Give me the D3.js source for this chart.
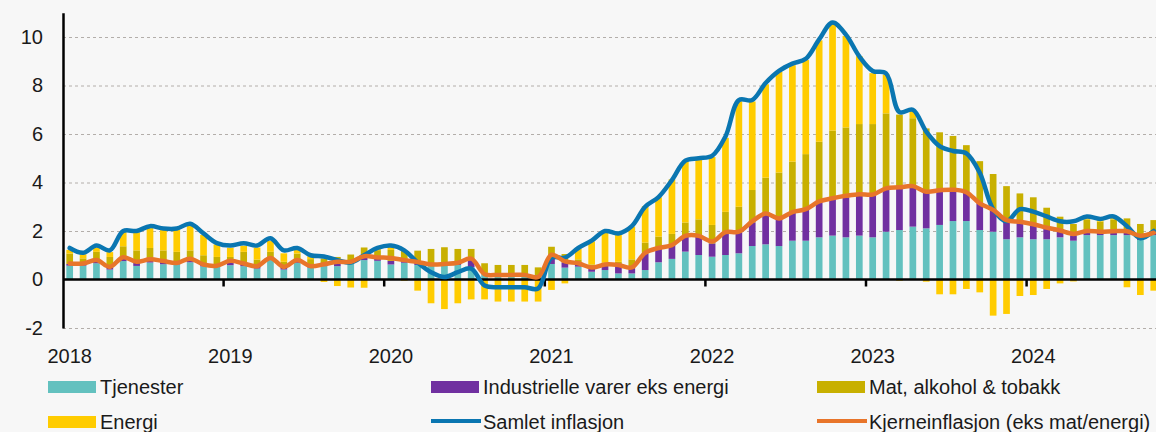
<!DOCTYPE html>
<meta charset="utf-8">
<style>

body {
  margin: 0;
  background: #f7f7f7;
}

svg {
  display: block;
  font-family: "Liberation Sans", Arial, sans-serif;
}

.axis text {
  font-size: 20px;
  fill: #1a1a1a;
}

.grid line {
  stroke: #b3aeaa;
  stroke-dasharray: 3,3;
}

.grid path {
  display: none;
}

.legend text {
  font-size: 20px;
  fill: #1a1a1a;
}

</style>
<body>
<script src="https://d3js.org/d3.v7.min.js"></script>
<script>

// årsetiketter og måneder (jan 2018 - okt 2024)
var years = ["2018", "2019", "2020", "2021", "2022", "2023", "2024"];
var monthsShown = 82;

// bidrag i prosentpoeng
var tjenester = [
  0.57, 0.57, 0.67, 0.41, 0.76, 0.56, 0.70, 0.63, 0.62, 0.71, 0.54, 0.57,
  0.59, 0.55, 0.45, 0.80, 0.41, 0.69, 0.49, 0.55, 0.55, 0.73, 0.80, 0.77,
  0.62, 0.69, 0.60, 0.56, 0.60, 0.60, 0.50, 0.25, 0.20, 0.20, 0.20, 0.15,
  0.64, 0.49, 0.53, 0.32, 0.39, 0.25, 0.25, 0.39, 0.71, 0.85, 1.15, 1.01,
  0.94, 1.01, 1.08, 1.38, 1.45, 1.38, 1.60, 1.60, 1.74, 1.81, 1.74, 1.81,
  1.74, 1.97, 2.04, 2.18, 2.11, 2.25, 2.41, 2.41, 2.04, 1.97, 1.66, 1.74,
  1.66, 1.66, 1.74, 1.60, 1.83, 1.83, 1.83, 1.83, 1.63, 1.83
];

var industri = [
  0.07, 0.07, 0.10, 0.09, 0.12, 0.12, 0.10, 0.10, 0.06, 0.12, 0.07, 0.03,
  0.12, 0.08, 0.08, 0.07, 0.09, 0.08, 0.06, 0.06, 0.12, 0.04, 0.12, 0.10,
  0.15, 0.08, 0.10, 0.06, 0.05, 0.10, 0.30, 0.02, 0.02, 0.02, 0.02, 0.03,
  0.36, 0.22, 0.14, 0.14, 0.20, 0.28, 0.22, 0.68, 0.55, 0.57, 0.62, 0.76,
  0.55, 0.92, 0.87, 0.98, 1.27, 1.10, 1.15, 1.28, 1.45, 1.54, 1.65, 1.70,
  1.79, 1.77, 1.74, 1.63, 1.49, 1.42, 1.25, 1.17, 1.10, 0.86, 0.83, 0.62,
  0.60, 0.42, 0.25, 0.22, 0.13, 0.12, 0.13, 0.13, 0.10, 0.10
];

var mat = [
  0.43, 0.23, 0.37, 0.43, 0.49, 0.52, 0.50, 0.47, 0.46, 0.37, 0.39, 0.33,
  0.22, 0.51, 0.29, 0.27, 0.23, 0.30, 0.29, 0.26, 0.26, 0.26, 0.40, 0.34,
  0.45, 0.41, 0.49, 0.64, 0.68, 0.56, 0.46, 0.40, 0.38, 0.38, 0.38, 0.32,
  0.35, 0.34, 0.16, 0.16, 0.10, 0.20, 0.36, 0.45, 0.51, 0.46, 0.58, 0.71,
  0.76, 0.86, 1.05, 1.33, 1.48, 1.93, 2.11, 2.29, 2.49, 2.79, 2.88, 2.90,
  2.88, 3.11, 3.02, 2.84, 2.63, 2.40, 2.26, 1.96, 1.74, 1.52, 1.36, 1.19,
  1.13, 0.88, 0.60, 0.47, 0.52, 0.44, 0.52, 0.56, 0.56, 0.52
];

var energi = [
  0.15, 0.17, 0.18, 0.20, 0.58, 0.74, 0.82, 0.84, 0.90, 1.02, 0.84, 0.52,
  0.38, 0.25, 0.50, 0.45, 0.35, 0.20, 0.12, -0.10, -0.27, -0.33, -0.34, 0.05,
  0.12, -0.05, -0.46, -0.98, -1.22, -0.98, -0.82, -0.82, -0.91, -0.91, -0.91, -0.91,
  -0.43, -0.16, 0.45, 0.95, 1.28, 1.20, 1.35, 1.50, 1.62, 2.25, 2.55, 2.50,
  2.80, 3.05, 4.35, 3.65, 3.85, 4.15, 3.98, 3.88, 4.18, 4.40, 3.77, 2.80,
  2.10, 1.60, -0.05, 0.30, -0.09, -0.61, -0.61, -0.39, -0.53, -1.49, -1.42, -0.68,
  -0.64, -0.39, -0.16, -0.08, 0.08, 0.06, 0.08, -0.32, -0.64, -0.46
];

// tolvmånedersvekst i prosent
var samlet = [
  1.3, 1.1, 1.4, 1.2, 2.0, 2.0, 2.2, 2.1, 2.1, 2.3, 1.9, 1.5,
  1.4, 1.5, 1.4, 1.7, 1.2, 1.3, 1.0, 0.95, 0.8, 0.7, 1.0, 1.3,
  1.4, 1.2, 0.7, 0.3, 0.1, 0.3, 0.45, -0.25, -0.32, -0.32, -0.32, -0.37,
  0.9, 0.9, 1.3, 1.6, 2.0, 1.9, 2.2, 3.0, 3.4, 4.1, 4.9, 5.0,
  5.1, 5.9, 7.4, 7.4, 8.1, 8.6, 8.9, 9.1, 9.9, 10.6, 10.1, 9.2,
  8.6, 8.5, 6.9, 7.0, 6.1, 5.5, 5.3, 5.2, 4.4, 2.9, 2.4, 2.9,
  2.8, 2.6, 2.4, 2.4, 2.6, 2.5, 2.6, 2.2, 1.7, 2.0
];

var kjerne = [
  0.66, 0.66, 0.80, 0.52, 0.92, 0.73, 0.83, 0.76, 0.68, 0.86, 0.62, 0.57,
  0.77, 0.66, 0.55, 0.89, 0.52, 0.80, 0.55, 0.63, 0.73, 0.73, 0.96, 0.91,
  0.89, 0.80, 0.72, 0.62, 0.64, 0.69, 0.86, 0.22, 0.19, 0.19, 0.19, 0.10,
  1.02, 0.75, 0.67, 0.49, 0.62, 0.60, 0.50, 1.10, 1.30, 1.42, 1.80, 1.80,
  1.57, 1.95, 1.97, 2.40, 2.72, 2.52, 2.78, 2.90, 3.22, 3.35, 3.45, 3.52,
  3.50, 3.76, 3.80, 3.85, 3.62, 3.68, 3.70, 3.60, 3.14, 2.87, 2.45, 2.38,
  2.28, 2.14, 2.02, 1.88, 2.00, 1.97, 1.99, 1.99, 1.80, 1.93
];

var yTicks = [-2, 0, 2, 4, 6, 8, 10];

var keys = ["tjenester", "industri", "mat", "energi"];
var labels = {
  tjenester: "Tjenester",
  industri: "Industrielle varer eks energi",
  mat: "Mat, alkohol & tobakk",
  energi: "Energi",
  samlet: "Samlet inflasjon",
  kjerne: "Kjerneinflasjon (eks mat/energi)"
};
var colors = {
  tjenester: "#63c1bf",
  industri: "#7030a0",
  mat: "#c8b000",
  energi: "#ffcc00",
  samlet: "#0a76b1",
  kjerne: "#e8752a"
};

var months = [];
years.forEach(function(yr) {
  for (var m = 1; m <= 12; m++) months.push(yr + "-" + (m < 10 ? "0" + m : m));
});

var data = months.slice(0, monthsShown).map(function(mo, i) {
  return {
    month: mo,
    tjenester: tjenester[i],
    industri: industri[i],
    mat: mat[i],
    energi: energi[i],
    samlet: samlet[i],
    kjerne: kjerne[i]
  };
});

var W = 1156, H = 432;
var left = 63, yearWidth = 160.6;

var x = d3.scaleBand()
    .domain(months)
    .range([left, left + yearWidth * years.length])
    .paddingInner(0.5)
    .paddingOuter(0.25);

var y = d3.scaleLinear()
    .domain([-2, 11])
    .range([328, 12.75]);

var xYear = d3.scaleLinear()
    .domain([0, years.length])
    .range([left, left + yearWidth * years.length]);

var svg = d3.select("body").append("svg")
    .attr("width", W)
    .attr("height", H);

svg.append("rect")
    .attr("width", W)
    .attr("height", H)
    .attr("fill", "#f7f7f7");

// rutenett
svg.append("g")
    .attr("class", "grid")
    .attr("transform", "translate(" + left + ",0)")
    .call(d3.axisLeft(y)
      .tickValues(yTicks.filter(function(v) { return v !== 0; }))
      .tickSize(-(W - left))
      .tickFormat(""));

// stablede søyler
var series = d3.stack()
    .keys(keys)
    .offset(d3.stackOffsetDiverging)(data);

svg.append("g")
  .selectAll("g")
  .data(series)
  .enter().append("g")
    .attr("fill", function(d) { return colors[d.key]; })
  .selectAll("rect")
  .data(function(d) { return d; })
  .enter().append("rect")
    .attr("x", function(d) { return x(d.data.month); })
    .attr("width", x.bandwidth())
    .attr("y", function(d) { return y(Math.max(d[0], d[1])); })
    .attr("height", function(d) { return Math.abs(y(d[0]) - y(d[1])); });

// y-akse
svg.append("g")
    .attr("class", "axis")
    .attr("transform", "translate(" + left + ",0)")
    .call(d3.axisLeft(y)
      .tickValues(yTicks)
      .tickSize(0)
      .tickPadding(20)
      .tickSizeOuter(0)
      .tickFormat(function(d) { return String(d); }))
    .call(function(g) { g.select(".domain").attr("stroke", "#000").attr("stroke-width", 2.5); })
    .call(function(g) { g.selectAll("text").attr("font-family", null).attr("font-size", null); });

// x-akse (nullinje med årsmarkører)
var xAxis = svg.append("g")
    .attr("class", "axis")
    .attr("transform", "translate(0," + y(0) + ")");

xAxis.append("line")
    .attr("x1", left)
    .attr("x2", W)
    .attr("stroke", "#000")
    .attr("stroke-width", 2.5);

xAxis.selectAll(".yeartick")
    .data(d3.range(1, years.length))
    .enter().append("line")
      .attr("class", "yeartick")
      .attr("x1", function(d) { return xYear(d); })
      .attr("x2", function(d) { return xYear(d); })
      .attr("y1", 0)
      .attr("y2", 7)
      .attr("stroke", "#000")
      .attr("stroke-width", 2.5);

svg.append("g")
    .attr("class", "axis")
  .selectAll("text")
  .data(years)
  .enter().append("text")
    .attr("x", function(d) { return x(d + "-01") + x.bandwidth() / 2; })
    .attr("y", 363)
    .attr("text-anchor", "middle")
    .text(function(d) { return d; });

// linjer
var line = function(key) {
  return d3.line()
    .x(function(d) { return x(d.month) + x.bandwidth() / 2; })
    .y(function(d) { return y(d[key]); })
    .curve(d3.curveCatmullRom);
};

["samlet", "kjerne"].forEach(function(key) {
  svg.append("path")
      .datum(data)
      .attr("fill", "none")
      .attr("stroke", colors[key])
      .attr("stroke-width", 4.5)
      .attr("stroke-linejoin", "round")
      .attr("stroke-linecap", "round")
      .attr("d", line(key));
});

// forklaring
var legendItems = [
  {key: "tjenester", type: "bar", col: 0, row: 0},
  {key: "industri", type: "bar", col: 1, row: 0},
  {key: "mat", type: "bar", col: 2, row: 0},
  {key: "energi", type: "bar", col: 0, row: 1},
  {key: "samlet", type: "line", col: 1, row: 1},
  {key: "kjerne", type: "line", col: 2, row: 1}
];
var colX = [48, 431, 817], rowY = [394, 429];

var legend = svg.append("g")
    .attr("class", "legend")
  .selectAll("g")
  .data(legendItems)
  .enter().append("g")
    .attr("transform", function(d) { return "translate(" + colX[d.col] + "," + rowY[d.row] + ")"; });

legend.filter(function(d) { return d.type === "bar"; })
  .append("rect")
    .attr("x", 0)
    .attr("y", -13)
    .attr("width", 48)
    .attr("height", 12)
    .attr("fill", function(d) { return colors[d.key]; });

legend.filter(function(d) { return d.type === "line"; })
  .append("line")
    .attr("x1", 0)
    .attr("x2", 50)
    .attr("y1", -8)
    .attr("y2", -8)
    .attr("stroke", function(d) { return colors[d.key]; })
    .attr("stroke-width", 4);

legend.append("text")
    .attr("x", 52)
    .attr("y", 0)
    .text(function(d) { return labels[d.key]; });

</script>
